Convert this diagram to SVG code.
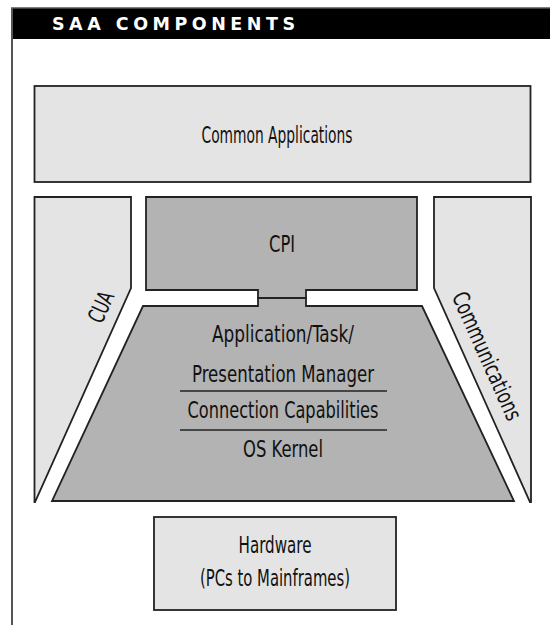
<svg xmlns="http://www.w3.org/2000/svg" width="550" height="625" viewBox="0 0 550 625">
<style>
.box{stroke:#222;stroke-width:1.8;stroke-linejoin:miter}
.light{fill:#e4e4e4}
.dark{fill:#b3b3b3}
.lbl{font-family:"DejaVu Sans Condensed","DejaVu Sans","Liberation Sans",sans-serif;font-stretch:condensed;font-size:23px;fill:#111;text-anchor:middle}
.hdr{font-family:"DejaVu Sans","Liberation Sans",sans-serif;font-weight:bold;font-size:17.5px;fill:#fff}
</style>
<rect width="550" height="625" fill="#fff"/>
<g id="frame">
<rect x="12" y="8" width="538" height="31" fill="#000"/>
<line x1="12" y1="8" x2="12" y2="625" stroke="#555" stroke-width="2"/>
<line x1="11" y1="8" x2="550" y2="8" stroke="#555" stroke-width="1.5"/>
<text class="hdr" x="52" y="30" textLength="243" lengthAdjust="spacing">SAA COMPONENTS</text>
</g>
<g id="common-applications">
<rect class="box light" x="34.5" y="86" width="496" height="96"/>
<text class="lbl" x="277" y="143" textLength="151" lengthAdjust="spacingAndGlyphs">Common Applications</text>
</g>
<g id="cua">
<polygon class="box light" points="34.5,197 131,197 131,288 35,502 34.5,502"/>
<text class="lbl" transform="translate(101,307) rotate(-65.8)" y="8" textLength="32" lengthAdjust="spacingAndGlyphs">CUA</text>
</g>
<g id="cpi">
<path class="box dark" d="M146,197 H417 V290 H306 V298 H258 V290 H146 Z"/>
<text class="lbl" x="282" y="252" textLength="26" lengthAdjust="spacingAndGlyphs">CPI</text>
</g>
<g id="os-stack">
<path class="box dark" d="M143,306 H258 V298 H306 V306 H422 L514,501 H52 Z"/>
<text class="lbl" x="283" y="342" textLength="142" lengthAdjust="spacingAndGlyphs">Application/Task/</text>
<text class="lbl" x="283" y="382" textLength="182" lengthAdjust="spacingAndGlyphs">Presentation Manager</text>
<line x1="180" y1="391" x2="387" y2="391" stroke="#222" stroke-width="1.3"/>
<text class="lbl" x="283" y="418" textLength="191" lengthAdjust="spacingAndGlyphs">Connection Capabilities</text>
<line x1="180" y1="430" x2="387" y2="430" stroke="#222" stroke-width="1.3"/>
<text class="lbl" x="283" y="457" textLength="80" lengthAdjust="spacingAndGlyphs">OS Kernel</text>
</g>
<g id="communications">
<polygon class="box light" points="434,197 531,197 531,502 530,502 434,288"/>
<text class="lbl" transform="translate(487,356) rotate(65.8)" y="8" textLength="138" lengthAdjust="spacingAndGlyphs">Communications</text>
</g>
<g id="hardware">
<rect class="box light" x="154" y="517" width="242" height="93"/>
<text class="lbl" x="275" y="553" textLength="73" lengthAdjust="spacingAndGlyphs">Hardware</text>
<text class="lbl" x="275" y="586" textLength="150" lengthAdjust="spacingAndGlyphs">(PCs to Mainframes)</text>
</g>
<g id="connectors"></g>
</svg>
